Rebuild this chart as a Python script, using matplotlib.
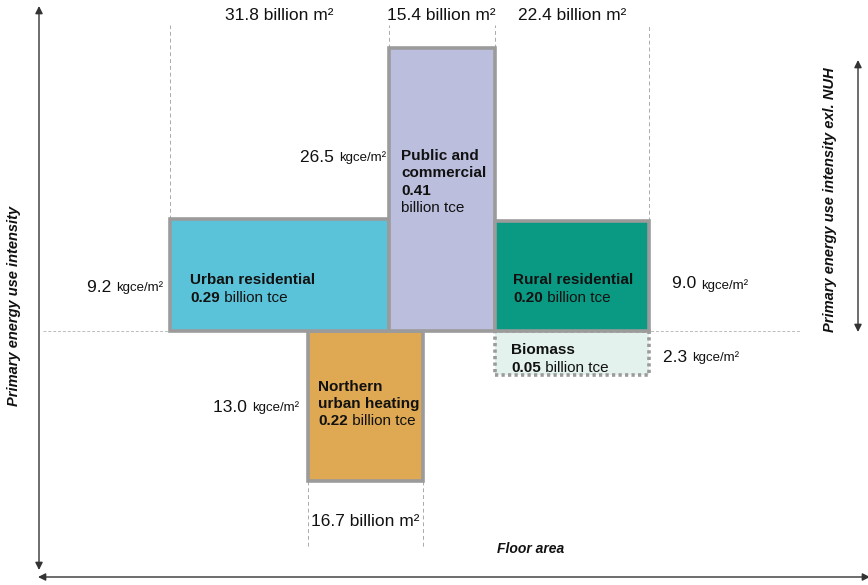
import matplotlib
matplotlib.use("Agg")
import numpy as np
import matplotlib.pyplot as plt
from matplotlib.patches import Rectangle
from matplotlib.offsetbox import TextArea, HPacker, VPacker, AnnotationBbox

plt.rcParams['font.family'] = ['Liberation Sans', 'DejaVu Sans']

# ---- data -------------------------------------------------------------
sectors = ["Urban residential", "Public and commercial", "Rural residential",
           "Northern urban heating", "Biomass"]
floor_area = [31.8, 15.4, 22.4, 16.7, 22.4]     # billion m2
intensity = [9.2, 26.5, 9.0, 13.0, 2.3]          # kgce/m2
energy = [0.29, 0.41, 0.20, 0.22, 0.05]          # billion tce
label_lines = [["Urban residential"], ["Public and", "commercial"],
               ["Rural residential"], ["Northern", "urban heating"], ["Biomass"]]

# ---- styling ----------------------------------------------------------
colors = ["#5BC3D9", "#BBBEDC", "#0A9A83", "#DFA853", "#E3F2EC"]
edge = "#9B9B9B"
W, H = 868, 585
X0, Y0 = 170, 331             # pixel position of the origin
SX = 6.88                     # px per billion m2
K, D = 2.2, 0.8               # stretch near zero so thin blocks keep room for text
SY = 283 / (26.5 + K * np.tanh(26.5 / D))   # px per scaled intensity unit
NUH_START = 20.1              # horizontal start of the heating block


def fwd(v):
    v = np.asarray(v, dtype=float)
    return v + K * np.tanh(v / D)


def inv(s):
    s = np.asarray(s, dtype=float)
    v = s - K * np.sign(s)
    for _ in range(40):
        v = v - (fwd(v) - s) / (1 + K / D / np.cosh(v / D) ** 2)
    return v


fig = plt.figure(figsize=(W / 100, H / 100), dpi=100)
ax = fig.add_axes([0, 0, 1, 1])
ax.set_yscale("function", functions=(fwd, inv))
ax.set_xlim(-X0 / SX, (W - X0) / SX)
ax.set_ylim(float(inv(-(H - Y0) / SY)), float(inv(Y0 / SY)))
ax.axis("off")


def px(x, y):
    """Pixel position -> data coordinates."""
    return (x - X0) / SX, float(inv((Y0 - y) / SY))


# block positions derived from the floor areas
lefts = [0.0, floor_area[0], floor_area[0] + floor_area[1], NUH_START,
         floor_area[0] + floor_area[1]]
above = [True, True, True, False, False]

# baseline
bx0, _ = px(43, 0)
bx1, _ = px(800, 0)
ax.plot([bx0, bx1], [0, 0], color="#BBBBBB", lw=0.7, ls=(0, (3, 2)), zorder=1)

# blocks (heating and biomass first so the upper blocks' edges sit on top)
order = [3, 4, 0, 1, 2]
for i in order:
    h = intensity[i]
    y = 0 if above[i] else -h
    ls = "-" if i != 4 else (0, (0.9, 0.9))
    ax.add_patch(Rectangle((lefts[i], y), floor_area[i], h,
                           facecolor=colors[i], edgecolor=edge,
                           lw=2.6, ls=ls, joinstyle="miter", zorder=2 + order.index(i)))

# dashed guides to the floor-area labels
guide = dict(color="#AAAAAA", lw=0.7, ls=(0, (4, 3)), zorder=1)
_, ytop = px(0, 25)
for xg, yb in [(lefts[0], intensity[0]), (lefts[1], intensity[1]),
               (lefts[2], intensity[1]), (lefts[2] + floor_area[2], intensity[2])]:
    ax.plot([xg, xg], [yb, ytop], **guide)
_, ybot = px(0, 548)
for xg in [lefts[3], lefts[3] + floor_area[3]]:
    ax.plot([xg, xg], [-intensity[3], ybot], **guide)

# floor-area labels
_, ylab = px(0, 16)
for i in range(3):
    ax.text(lefts[i] + floor_area[i] / 2, ylab, f"{floor_area[i]:.1f} billion m²",
            ha="center", va="center", fontsize=12.5, color="#111111")
_, ylab2 = px(0, 521)
ax.text(lefts[3] + floor_area[3] / 2, ylab2, f"{floor_area[3]:.1f} billion m²",
        ha="center", va="center", fontsize=12.5, color="#111111")


def intensity_label(value, xy, align):
    num = TextArea(f"{value:.1f} ", textprops=dict(fontsize=12.5, color="#111111"))
    unit = TextArea("kgce/m²", textprops=dict(fontsize=9.5, color="#111111"))
    box = HPacker(children=[num, unit], align="baseline", pad=0, sep=0)
    ab = AnnotationBbox(box, px(*xy), frameon=False, box_alignment=(align, 0.5),
                        pad=0, zorder=10)
    ax.add_artist(ab)


intensity_label(intensity[0], (163, 287), 1)
intensity_label(intensity[1], (386, 157), 1)
intensity_label(intensity[2], (672, 284), 0)
intensity_label(intensity[3], (299, 407), 1)
intensity_label(intensity[4], (663, 357), 0)


def block_label(i, xy, split_value=False):
    fs = 11
    rows = []
    for line in label_lines[i]:
        rows.append(TextArea(line, textprops=dict(fontsize=fs, fontweight="bold",
                                                  color="#111111")))
    v = TextArea(f"{energy[i]:.2f}", textprops=dict(fontsize=fs, fontweight="bold",
                                                   color="#111111"))
    if split_value:
        rows.append(v)
        rows.append(TextArea("billion tce", textprops=dict(fontsize=fs, color="#111111")))
    else:
        rest = TextArea(" billion tce", textprops=dict(fontsize=fs, color="#111111"))
        rows.append(HPacker(children=[v, rest], align="baseline", pad=0, sep=0))
    box = VPacker(children=rows, align="left", pad=0, sep=2.5)
    ab = AnnotationBbox(box, px(*xy), frameon=False, box_alignment=(0, 0.5),
                        pad=0, zorder=10)
    ax.add_artist(ab)


block_label(0, (190, 289))
block_label(1, (401, 182), split_value=True)
block_label(2, (513, 289))
block_label(3, (318, 404))
block_label(4, (511, 359))

# axis arrows
arrow = dict(arrowstyle="<|-|>", color="#333333", lw=1.0, mutation_scale=11,
             shrinkA=0, shrinkB=0)
ax.annotate("", xy=px(39, 6), xytext=px(39, 570), arrowprops=arrow)
ax.annotate("", xy=px(38, 577), xytext=px(870, 577), arrowprops=arrow)
ax.annotate("", xy=px(858, 60), xytext=px(858, 332), arrowprops=arrow)

ax.text(*px(14, 306), "Primary energy use intensity", rotation=90, ha="center",
        va="center", fontsize=10.5, fontweight="bold", fontstyle="italic", color="#111111")
ax.text(*px(830, 200), "Primary energy use intensity exl. NUH", rotation=90,
        ha="center", va="center", fontsize=10.5, fontweight="bold", fontstyle="italic",
        color="#111111")
ax.text(*px(531, 549), "Floor area", ha="center", va="center", fontsize=10,
        fontweight="bold", fontstyle="italic", color="#111111")

fig.savefig("out.png", dpi=100)
